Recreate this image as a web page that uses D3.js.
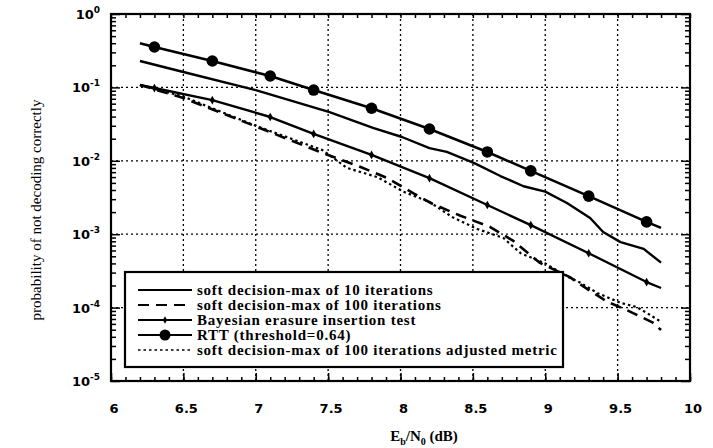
<!DOCTYPE html>
<html>
<head>
<meta charset="utf-8">
<script src="https://cdn.jsdelivr.net/npm/d3@7"></script>
<style>
  body { margin: 0; background: #fff; }
  svg { display: block; }
</style>
</head>
<body>
<div id="container"></div>
<script>
// Eb/N0 (dB) vs probability of not decoding correctly
const soft10X = [6.2, 6.5, 7.0, 7.51, 7.81, 8.01, 8.2, 8.32, 8.51, 8.69, 8.85, 9.0, 9.15, 9.31, 9.4, 9.52, 9.68, 9.8];
const soft10Y = [0.229, 0.162, 0.092, 0.046, 0.028, 0.0211, 0.0149, 0.0132, 0.0093, 0.0062, 0.0045, 0.0038, 0.00266, 0.00166, 0.00107, 0.00078, 0.00063, 0.00041];

const soft100X = [6.2, 6.5, 7.01, 7.46, 7.72, 7.91, 8.09, 8.22, 8.41, 8.62, 8.78, 8.96, 9.17, 9.29, 9.43, 9.56, 9.74, 9.8];
const soft100Y = [0.108, 0.0717, 0.0289, 0.0128, 0.0083, 0.0058, 0.0036, 0.0026, 0.0018, 0.00125, 0.00081, 0.00041, 0.00026, 0.000179, 0.00012, 0.000093, 0.000063, 0.0000495];

const bayesX = [6.2, 6.3, 6.7, 7.1, 7.4, 7.8, 8.2, 8.6, 8.9, 9.3, 9.7, 9.8];
const bayesY = [0.108, 0.098, 0.067, 0.0395, 0.0232, 0.012, 0.0058, 0.0025, 0.00133, 0.00055, 0.000223, 0.000185];
const bayesMarkX = [6.3, 6.7, 7.1, 7.4, 7.8, 8.2, 8.6, 8.9, 9.3, 9.7];

const rttX = [6.2, 6.3, 6.7, 7.1, 7.4, 7.8, 8.2, 8.6, 8.9, 9.3, 9.7, 9.8];
const rttY = [0.40, 0.355, 0.229, 0.143, 0.092, 0.052, 0.0271, 0.0132, 0.0073, 0.0033, 0.00147, 0.00122];
const rttMarkX = [6.3, 6.7, 7.1, 7.4, 7.8, 8.2, 8.6, 8.9, 9.3, 9.7];

const adjX = [6.2, 6.5, 7.0, 7.46, 7.63, 7.84, 8.02, 8.2, 8.36, 8.53, 8.71, 8.83, 9.0, 9.16, 9.24, 9.36, 9.52, 9.63, 9.7, 9.8];
const adjY = [0.108, 0.075, 0.030, 0.014, 0.0080, 0.0060, 0.0038, 0.00275, 0.0017, 0.00118, 0.00089, 0.00055, 0.00040, 0.00026, 0.00022, 0.000158, 0.000116, 0.000102, 0.000085, 0.000064];

const xTicks = [6, 6.5, 7, 7.5, 8, 8.5, 9, 9.5, 10];
const yExps = [0, -1, -2, -3, -4, -5];

const legendLabels = [
  "soft decision-max of 10 iterations",
  "soft decision-max of 100 iterations",
  "Bayesian erasure insertion test",
  "RTT (threshold=0.64)",
  "soft decision-max of 100 iterations adjusted metric"
];

const W = 713, H = 448;
const L = 111, R = 690, T = 14, B = 381;

const svg = d3.select('#container').append('svg')
  .attr('width', W)
  .attr('height', H);

const x = d3.scaleLinear().domain([6, 10]).range([L, R]);
const y = d3.scaleLog().domain([1e-5, 1]).range([B, T]);

// grid
const grid = svg.append('g')
  .attr('stroke', '#000')
  .attr('stroke-width', 1.3)
  .attr('stroke-dasharray', '2,3');
grid.selectAll('line.v')
  .data(xTicks.slice(1, -1))
  .join('line')
  .attr('x1', d => x(d)).attr('x2', d => x(d))
  .attr('y1', T).attr('y2', B);
grid.selectAll('line.h')
  .data(yExps.slice(1, -1))
  .join('line')
  .attr('y1', d => y(Math.pow(10, d))).attr('y2', d => y(Math.pow(10, d)))
  .attr('x1', L).attr('x2', R);

// minor/major ticks (inward)
const yMinor = [];
for (let e = -5; e < 0; e++) for (let k = 2; k <= 9; k++) yMinor.push(k * Math.pow(10, e));
const yMajor = yExps.map(e => Math.pow(10, e));
const xMinor = d3.range(60, 101).map(d => d / 10);

function tickAxis(axis, tr) {
  const g = svg.append('g').attr('transform', tr).call(axis);
  g.select('.domain').remove();
  g.selectAll('line').attr('stroke', '#000').attr('stroke-width', 1.5);
  g.selectAll('text').remove();
}
tickAxis(d3.axisLeft(y).tickValues(yMinor).tickSize(-5), `translate(${L},0)`);
tickAxis(d3.axisLeft(y).tickValues(yMajor).tickSize(-9), `translate(${L},0)`);
tickAxis(d3.axisRight(y).tickValues(yMinor).tickSize(-5), `translate(${R},0)`);
tickAxis(d3.axisRight(y).tickValues(yMajor).tickSize(-9), `translate(${R},0)`);
tickAxis(d3.axisBottom(x).tickValues(xMinor).tickSize(-4), `translate(0,${B})`);
tickAxis(d3.axisBottom(x).tickValues(xTicks).tickSize(-8), `translate(0,${B})`);
tickAxis(d3.axisTop(x).tickValues(xMinor).tickSize(-4), `translate(0,${T})`);

// curves
const line = d3.line().x(d => x(d[0])).y(d => y(d[1]));
const zip = (a, b) => a.map((v, i) => [v, b[i]]);

const plot = svg.append('g').attr('fill', 'none').attr('stroke', '#000').attr('stroke-linejoin', 'round');
plot.append('path').datum(zip(soft10X, soft10Y)).attr('d', line).attr('stroke-width', 2.4);
plot.append('path').datum(zip(soft100X, soft100Y)).attr('d', line).attr('stroke-width', 2.6).attr('stroke-dasharray', '11,7');
plot.append('path').datum(zip(adjX, adjY)).attr('d', line).attr('stroke-width', 2.2).attr('stroke-dasharray', '2.5,3');
plot.append('path').datum(zip(bayesX, bayesY)).attr('d', line).attr('stroke-width', 2.4);
plot.append('path').datum(zip(rttX, rttY)).attr('d', line).attr('stroke-width', 2.6);

const bayesMap = new Map(zip(bayesX, bayesY));
svg.append('g').selectAll('path')
  .data(bayesMarkX)
  .join('path')
  .attr('d', d3.symbol(d3.symbolDiamond, 22))
  .attr('transform', d => `translate(${x(d)},${y(bayesMap.get(d))})`)
  .attr('fill', '#000');

const rttMap = new Map(zip(rttX, rttY));
svg.append('g').selectAll('circle')
  .data(rttMarkX)
  .join('circle')
  .attr('cx', d => x(d))
  .attr('cy', d => y(rttMap.get(d)))
  .attr('r', 5.8)
  .attr('fill', '#000');

// frame
svg.append('rect')
  .attr('x', L).attr('y', T)
  .attr('width', R - L).attr('height', B - T)
  .attr('fill', 'none').attr('stroke', '#000').attr('stroke-width', 2.2);

// tick labels
const tickFont = "'DejaVu Sans', sans-serif";
svg.append('g').selectAll('text')
  .data(xTicks)
  .join('text')
  .attr('x', d => x(d) + 3)
  .attr('y', 413)
  .attr('text-anchor', 'middle')
  .attr('font-family', tickFont)
  .attr('font-size', 13)
  .attr('font-weight', 'bold')
  .text(d => d);

const yl = svg.append('g').selectAll('text')
  .data(yExps)
  .join('text')
  .attr('x', 100)
  .attr('y', d => y(Math.pow(10, d)) + 5)
  .attr('text-anchor', 'end')
  .attr('font-family', tickFont)
  .attr('font-size', 13)
  .attr('font-weight', 'bold');
yl.append('tspan').text('10');
yl.append('tspan').attr('dy', -6).attr('font-size', 9).text(d => d);

// axis titles
const title = svg.append('text')
  .attr('x', 424)
  .attr('y', 441)
  .attr('text-anchor', 'middle')
  .attr('font-family', "'Liberation Serif', serif")
  .attr('font-weight', 'bold')
  .attr('font-size', 15);
title.append('tspan').text('E');
title.append('tspan').attr('dy', 4).attr('font-size', 10).text('b');
title.append('tspan').attr('dy', -4).text('/N');
title.append('tspan').attr('dy', 4).attr('font-size', 10).text('0');
title.append('tspan').attr('dy', -4).text(' (dB)');

svg.append('text')
  .attr('transform', 'translate(41,210) rotate(-90)')
  .attr('text-anchor', 'middle')
  .attr('font-family', "'Liberation Serif', serif")
  .attr('font-size', 15)
  .text('probability of not decoding correctly');

// legend
const lg = svg.append('g');
lg.append('rect')
  .attr('x', 125).attr('y', 272)
  .attr('width', 438).attr('height', 95)
  .attr('fill', '#fff').attr('stroke', '#000').attr('stroke-width', 2.2);

const dashes = [null, '11,7', null, null, '2.5,3'];
const rows = lg.selectAll('g.row')
  .data(legendLabels)
  .join('g')
  .attr('transform', (d, i) => `translate(0,${290 + i * 15})`);
rows.append('line')
  .attr('x1', 138).attr('x2', 192)
  .attr('stroke', '#000')
  .attr('stroke-width', (d, i) => i === 4 ? 1.6 : 2)
  .attr('stroke-dasharray', (d, i) => dashes[i]);
rows.filter((d, i) => i === 2).append('path')
  .attr('d', d3.symbol(d3.symbolDiamond, 16))
  .attr('transform', 'translate(165,0)');
rows.filter((d, i) => i === 3).append('circle')
  .attr('cx', 165).attr('r', 5.5);
rows.append('text')
  .attr('x', 197)
  .attr('y', 5)
  .attr('font-family', "'Liberation Serif', serif")
  .attr('font-weight', 'bold')
  .attr('font-size', 15)
  .attr('letter-spacing', 0.75)
  .text(d => d);
</script>
</body>
</html>
